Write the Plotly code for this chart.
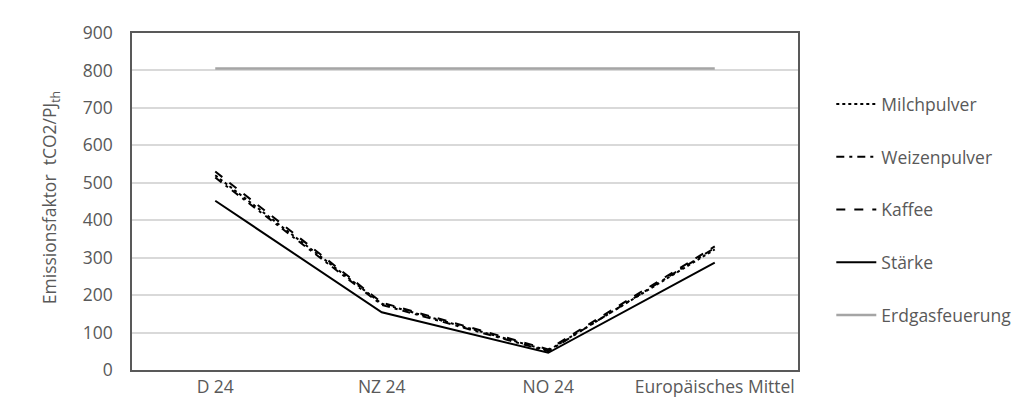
import plotly.graph_objects as go

categories = ["D 24", "NZ 24", "NO 24", "Europäisches Mittel"]
milchpulver = [520, 177, 52, 322]
weizenpulver = [514, 174, 50, 326]
kaffee = [530, 180, 55, 330]
staerke = [452, 154, 46, 287]
erdgas = [805, 805, 805, 805]
y_ticks = [0, 100, 200, 300, 400, 500, 600, 700, 800, 900]

FONT = "Open Sans"
FS = 17.5
TXT = "#595959"

fig = go.Figure()
series = [
    ("Milchpulver", milchpulver, "black", "dot", 2),
    ("Weizenpulver", weizenpulver, "black", "8px,5px,3px,5px", 2),
    ("Kaffee", kaffee, "black", "dash", 2),
    ("Stärke", staerke, "black", "solid", 2),
    ("Erdgasfeuerung", erdgas, "#A5A5A5", "solid", 2.5),
]
for i, (name, vals, col, dash, w) in enumerate(series):
    fig.add_trace(go.Scatter(
        x=categories, y=vals, name=name, mode="lines",
        line=dict(color=col, dash=dash, width=w),
        legendgroup=f"g{i}",
    ))

fig.update_layout(
    width=1028, height=411,
    margin=dict(l=124, r=238, t=25, b=49),
    paper_bgcolor="white", plot_bgcolor="white",
    font=dict(family=FONT, size=FS, color=TXT),
    showlegend=True,
    legend=dict(
        x=1.05, xanchor="left", y=0.842, yanchor="top",
        traceorder="grouped", tracegroupgap=27,
        font=dict(size=FS, color=TXT), itemwidth=40,
        bgcolor="rgba(0,0,0,0)",
    ),
    xaxis=dict(
        type="category", showgrid=False, showline=True, linecolor="#595959",
        linewidth=1.5, mirror=True, ticks="", tickfont=dict(size=FS, color=TXT),
        range=[-0.5, 3.5],
    ),
    yaxis=dict(
        range=[0, 900], tickvals=y_ticks, showgrid=True, gridcolor="#D9D9D9",
        gridwidth=1.5, showline=True, linecolor="#595959", linewidth=1.5,
        mirror=True, ticks="outside", ticklen=14, tickcolor="rgba(0,0,0,0)",
        tickfont=dict(size=FS, color=TXT), zeroline=False,
    ),
    annotations=[dict(
        text="Emissionsfaktor  tCO2/PJ<sub>th</sub>", textangle=-90,
        xref="paper", yref="paper", x=-0.123, y=0.51,
        xanchor="center", yanchor="middle", showarrow=False,
        font=dict(size=FS, color=TXT),
    )],
)

fig.write_html("out.html")
